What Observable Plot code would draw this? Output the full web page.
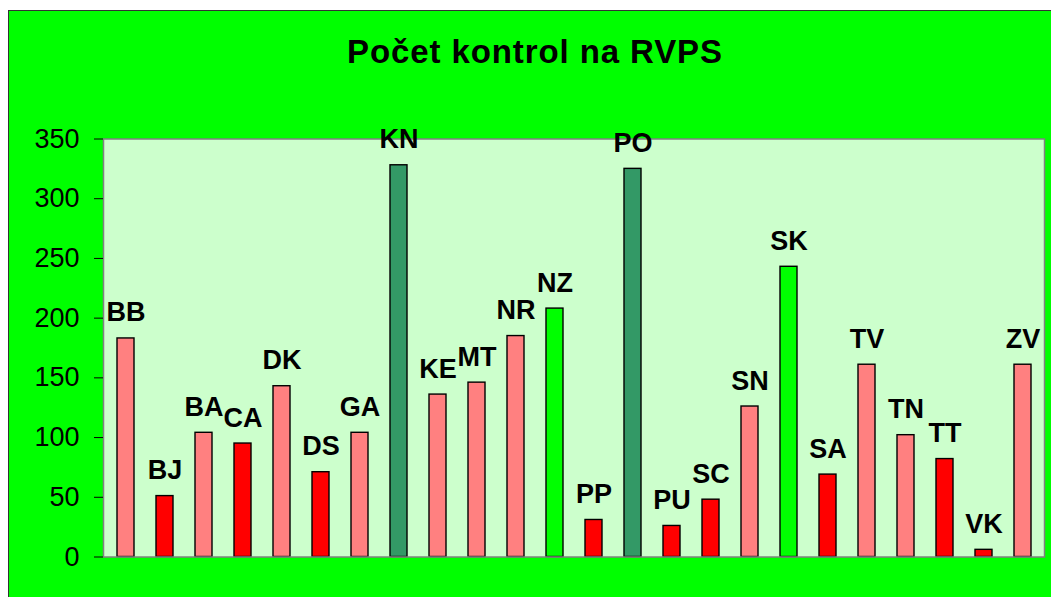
<!DOCTYPE html>
<html>
<head>
<meta charset="utf-8">
<script src="https://cdn.jsdelivr.net/npm/d3@7"></script>
<script src="https://cdn.jsdelivr.net/npm/@observablehq/plot@0.6"></script>
<style>
  html, body { margin: 0; padding: 0; background: #ffffff; overflow: hidden; }
  #frame {
    position: absolute; left: 8px; top: 10px; width: 1043px; height: 587px;
    background: #00ff00; border-left: 1px solid #333; border-top: 1px solid #333;
    box-sizing: border-box; font-family: "Liberation Sans", Arial, sans-serif;
  }
  #title {
    position: absolute; left: 0; top: 24px; width: 100%; text-align: center;
    padding-left: 10px; box-sizing: border-box;
    font-size: 33px; line-height: 33px; font-weight: bold; letter-spacing: 0.9px; color: #000;
  }
  #chart { position: absolute; left: 0; top: 89px; }
</style>
</head>
<body>
<div id="frame">
  <div id="title">Počet kontrol na RVPS</div>
  <div id="chart"></div>
</div>
<script>
const categories = ["BB","BJ","BA","CA","DK","DS","GA","KN","KE","MT","NR","NZ","PP","PO","PU","SC","SN","SK","SA","TV","TN","TT","VK","ZV"];
const values = [183, 51, 104, 95, 143, 71, 104, 328, 136, 146, 185, 208, 31, 325, 26, 48, 126, 243, 69, 161, 102, 82, 6, 161];
const groups = ["pink","red","pink","red","pink","red","pink","dark","pink","pink","pink","green","red","dark","red","red","pink","green","red","pink","pink","red","red","pink"];
const yTicks = [0, 50, 100, 150, 200, 250, 300, 350];

const groupNames = ["pink", "red", "dark", "green"];
const groupColors = ["#ff8080", "#ff0000", "#339966", "#00ff00"];

const data = categories.map((c, i) => ({code: c, value: values[i], group: groups[i]}));

const chart = Plot.plot({
  width: 1042,
  height: 497,
  marginTop: 38.5,
  marginBottom: 40.5,
  marginLeft: 94,
  marginRight: 7,
  style: {background: "transparent", color: "#000", fontFamily: "'Liberation Sans', Arial, sans-serif", overflow: "visible"},
  x: {domain: categories, paddingInner: 0.57, paddingOuter: 0.285, axis: null},
  y: {domain: [0, 350], ticks: yTicks, tickSize: 9, tickPadding: 15, label: null, tickFormat: d => String(d)},
  color: {domain: groupNames, range: groupColors},
  marks: [
    Plot.frame({fill: "#ccffcc", stroke: null}),
    Plot.barY(data, {x: "code", y: "value", fill: "group", stroke: "#000", strokeWidth: 1.4}),
    Plot.frame({stroke: "#808080", strokeWidth: 1.5}),
    Plot.axisY({ticks: yTicks, tickSize: 9, tickPadding: 15, fontSize: 27, label: null, stroke: "#000"}),
    Plot.text(data, {x: "code", y: "value", text: "code", lineAnchor: "bottom", dy: -17, fontSize: 27, fontWeight: "bold", fill: "#000", letterSpacing: 0.5})
  ]
});
document.getElementById("chart").appendChild(chart);
</script>
</body>
</html>
